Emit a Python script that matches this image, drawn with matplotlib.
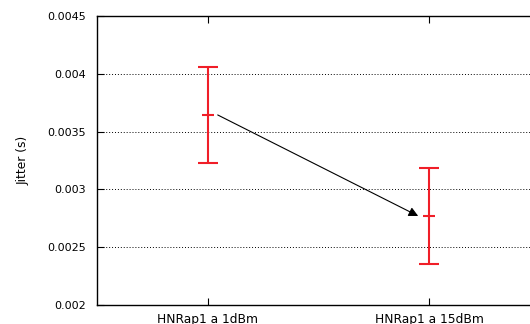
import matplotlib.pyplot as plt
from matplotlib.ticker import FormatStrFormatter
import numpy as np

labels = ["HNRap1 a 1dBm", "HNRap1 a 15dBm"]
means = [0.003644, 0.002770]
lows = [0.003228, 0.002355]
highs = [0.004059, 0.003185]

x = np.arange(1, len(labels) + 1)
yerr = [np.array(means) - np.array(lows), np.array(highs) - np.array(means)]

fig = plt.figure(figsize=(5.3, 3.24), dpi=100)
# plot box runs past the right edge of the picture, as in the reference
ax = fig.add_axes([97 / 530, 19 / 324, 443 / 530, 289 / 324])

red = "#f01e28"
ax.errorbar(x, means, yerr=yerr, fmt="_", color=red, ecolor=red,
            elinewidth=1.5, capsize=7.2, capthick=1.5,
            markersize=8.5, markeredgewidth=1.5, zorder=3)

ax.annotate("", xy=(x[1] - 0.05, means[1]), xytext=(x[0] + 0.045, means[0]),
            arrowprops=dict(arrowstyle="-|>", color="black", lw=0.8,
                            mutation_scale=14, shrinkA=0, shrinkB=0))

ax.set_xlim(0.5, 2.5)
ax.set_ylim(0.002, 0.0045)
ax.set_yticks(np.arange(0.002, 0.00451, 0.0005))
ax.yaxis.set_major_formatter(FormatStrFormatter("%g"))
ax.set_xticks(x, labels=labels)
ax.tick_params(direction="in", length=5, width=0.8, labelsize=8,
               top=True, right=True)
ax.tick_params(axis="x", pad=6, labelsize=8.8)
ax.tick_params(axis="y", pad=8)
ax.yaxis.grid(True, linestyle=(0, (1, 2)), color="black", linewidth=0.7)
ax.set_ylabel("Jitter (s)", fontsize=8.8, labelpad=13)
for s in ax.spines.values():
    s.set_linewidth(1.0)

fig.savefig("out.png", dpi=100)
